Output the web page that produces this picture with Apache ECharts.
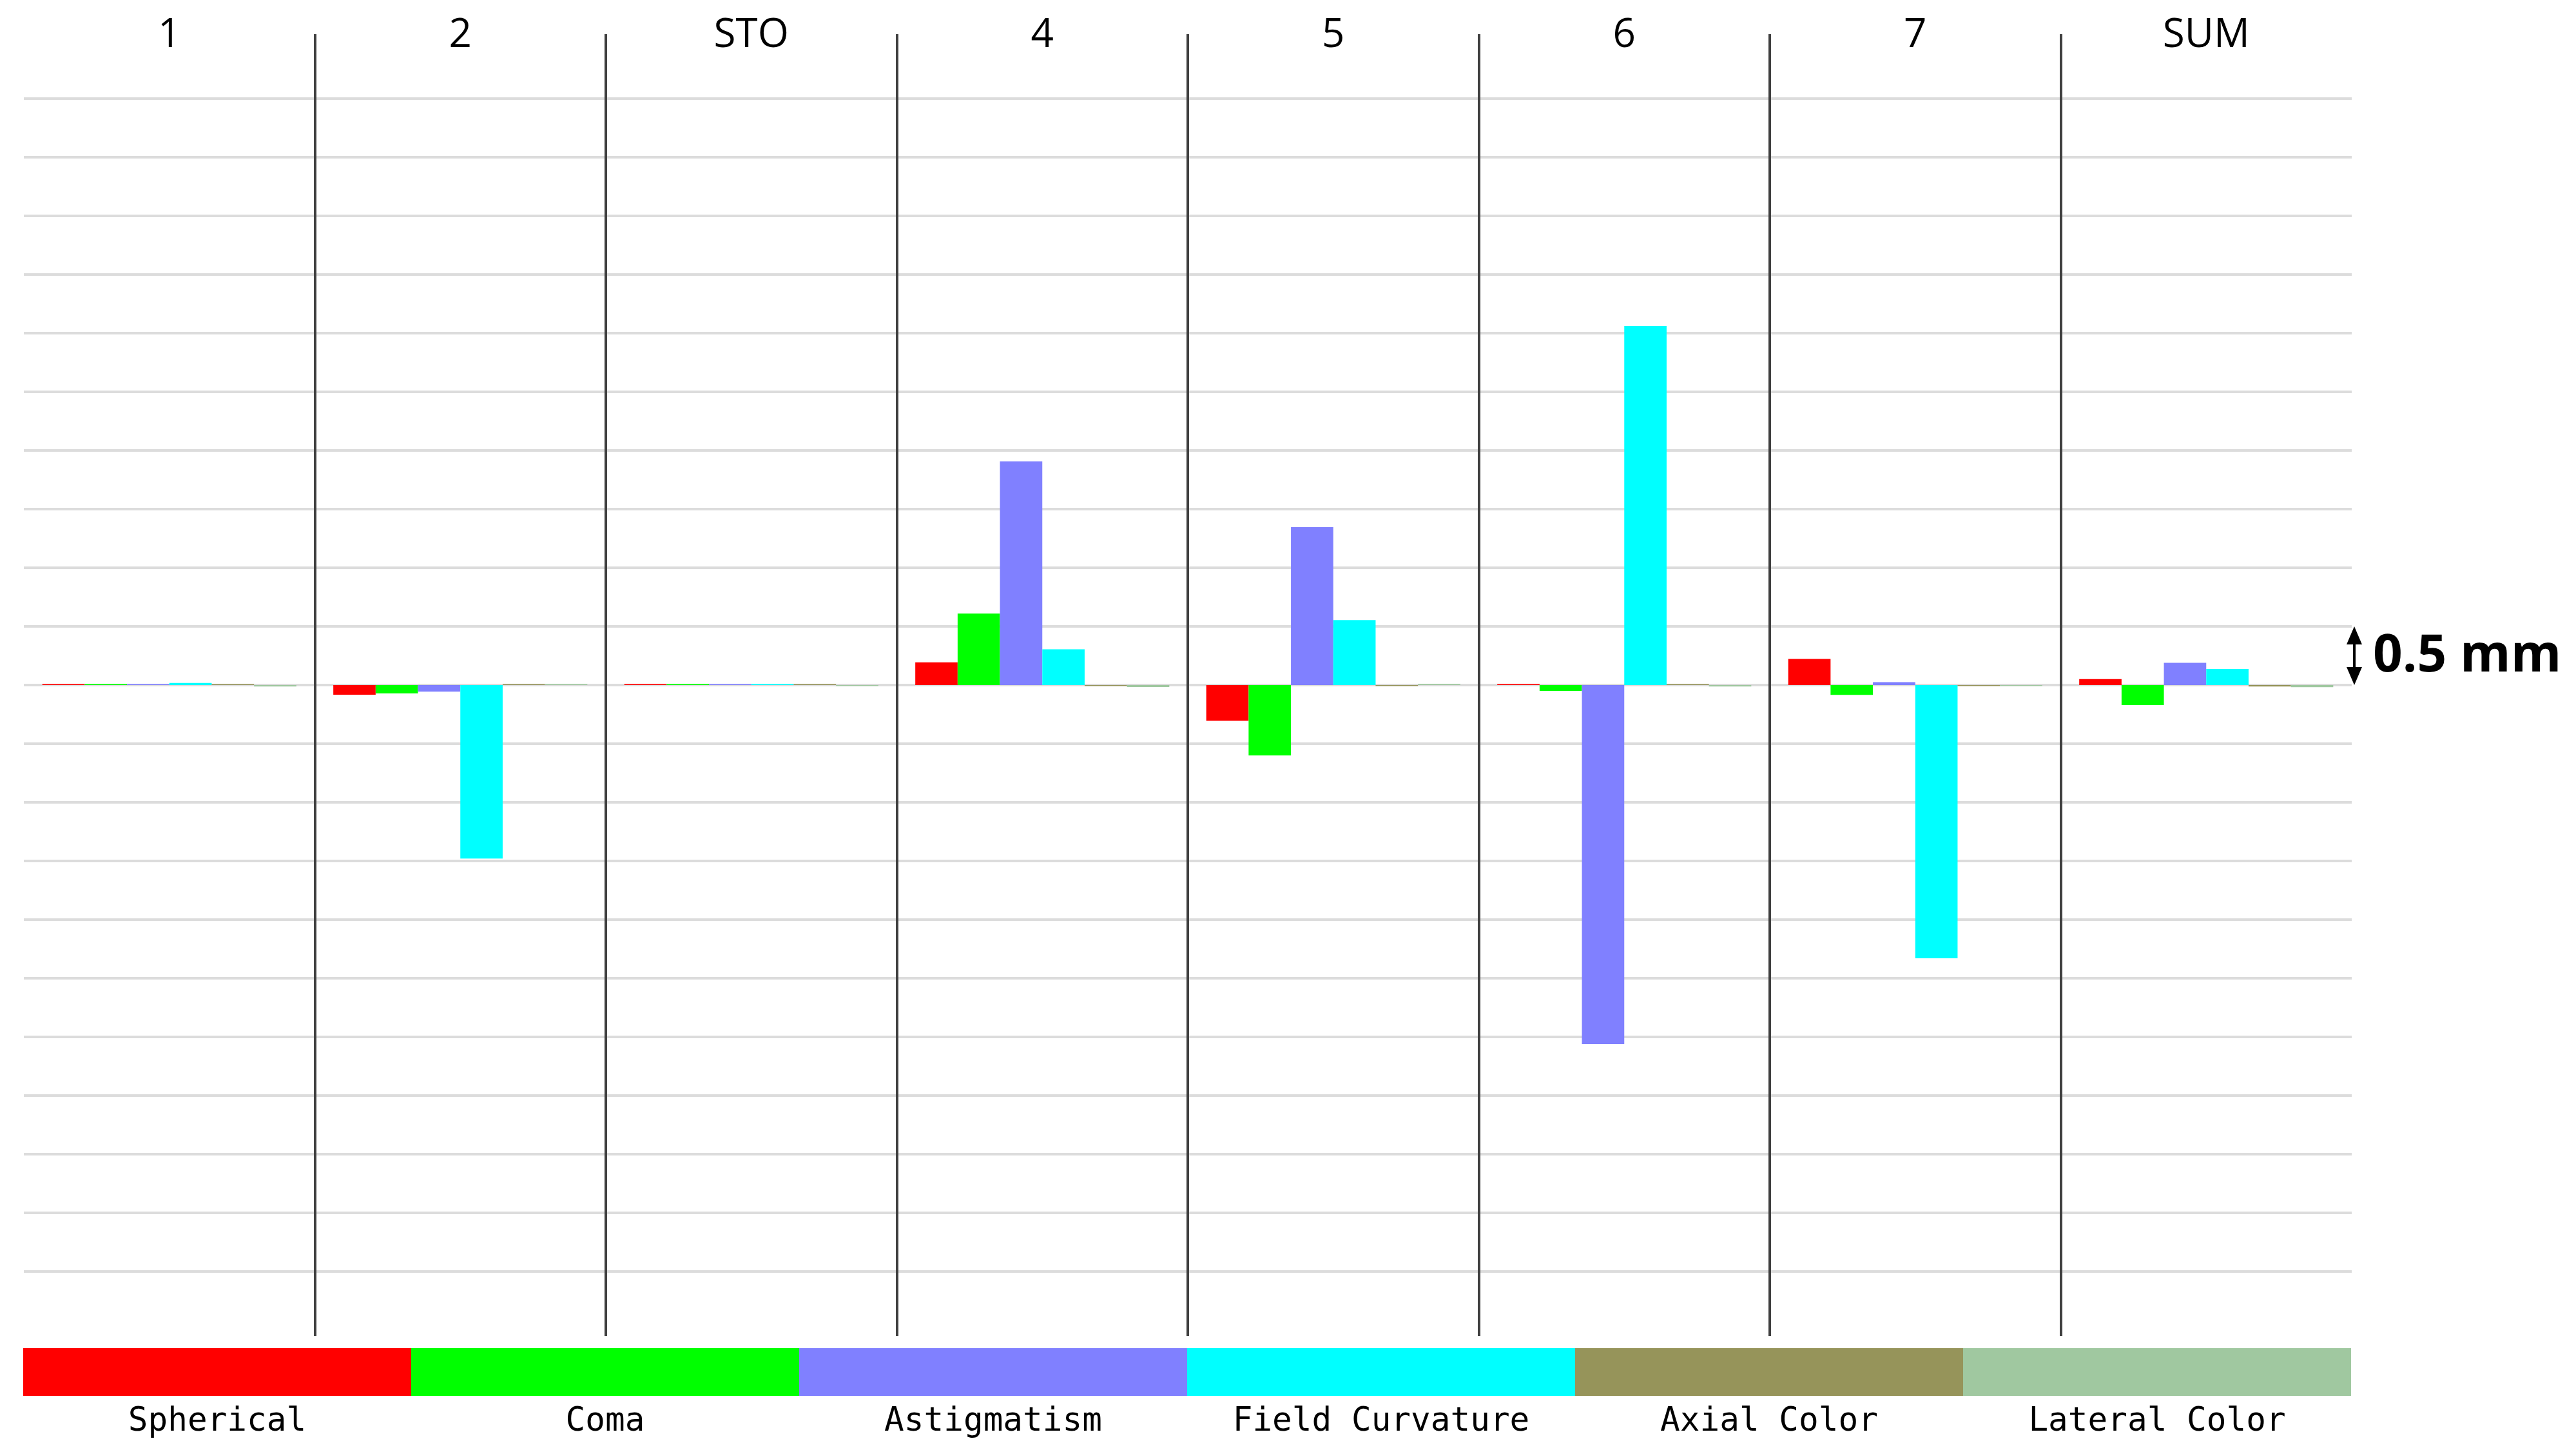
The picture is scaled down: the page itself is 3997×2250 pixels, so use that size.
<!DOCTYPE html>
<html>
<head>
<meta charset="utf-8">
<script src="https://cdn.jsdelivr.net/npm/echarts@6/dist/echarts.min.js"></script>
<style>
html,body{margin:0;padding:0;background:#fff;}
#chart{width:3997px;height:2250px;}
</style>
</head>
<body>
<div id="chart"></div>
<script>
const categories = ['1', '2', 'STO', '4', '5', '6', '7', 'SUM'];
const seriesNames = ['Spherical', 'Coma', 'Astigmatism', 'Field Curvature', 'Axial Color', 'Lateral Color'];
const seriesColors = ['#ff0000', '#00ff00', '#8080ff', '#00ffff', '#96945a', '#a0c8a0'];
const spherical = [0.008, -0.082, 0.008, 0.193, -0.305, 0.008, 0.223, 0.051];
const coma = [0.008, -0.071, 0.008, 0.61, -0.6, -0.05, -0.084, -0.17];
const astigmatism = [0.008, -0.057, 0.008, 1.907, 1.346, -3.06, 0.025, 0.189];
const fieldCurvature = [0.018, -1.48, 0.008, 0.305, 0.553, 3.06, -2.33, 0.137];
const axialColor = [0.008, 0.008, 0.008, -0.008, -0.008, 0.008, -0.008, -0.012];
const lateralColor = [-0.012, 0.008, -0.008, -0.016, 0.01, -0.012, -0.008, -0.018];
const scaleBarValue = 0.5;
const scaleBarLabel = '0.5 mm';

const seriesData = [spherical, coma, astigmatism, fieldCurvature, axialColor, lateralColor];

const chart = echarts.init(document.getElementById('chart'), null, {renderer: 'canvas'});

const rich = {
  l: {width: 602, align: 'center', fontFamily: 'DejaVu Sans Mono', fontSize: 51, lineHeight: 82, color: '#000'}
};
seriesColors.forEach((c, i) => {
  rich['b' + i] = {width: 602, height: 74, lineHeight: 74, backgroundColor: c};
});

const option = {
  animation: false,
  backgroundColor: '#ffffff',
  grid: [
    {left: 37, right: 348, top: 53, bottom: 177},
    {left: 37, right: 348, top: 153, bottom: 277}
  ],
  xAxis: [
    {
      type: 'category', gridIndex: 0, data: categories, z: 5,
      axisLine: {show: false}, axisTick: {show: false}, axisLabel: {show: false},
      splitLine: {show: true, showMinLine: false, showMaxLine: false, lineStyle: {color: '#404040', width: 4}}
    },
    {
      type: 'category', gridIndex: 1, data: categories, position: 'top',
      axisLine: {show: false}, axisTick: {show: false},
      axisLabel: {show: true, margin: 67, fontSize: 62, fontFamily: 'Open Sans', color: '#000'},
      splitLine: {show: false}
    }
  ],
  yAxis: [
    {type: 'value', gridIndex: 0, min: -5.5, max: 5.5, show: false},
    {
      type: 'value', gridIndex: 1, min: -5, max: 5, interval: 0.5,
      axisLine: {show: false}, axisTick: {show: false}, axisLabel: {show: false},
      splitLine: {show: true, lineStyle: {color: '#dcdcdc', width: 4}}
    }
  ],
  legend: {
    left: 31, top: 2092, padding: 0, itemGap: -5, itemWidth: 0, itemHeight: 0,
    selectedMode: false,
    itemStyle: {opacity: 0},
    data: seriesNames,
    formatter: function (name) {
      const i = seriesNames.indexOf(name);
      return '{b' + i + '| }\n{l|' + name + '}';
    },
    textStyle: {rich: rich}
  },
  series: seriesNames.map((name, i) => ({
    name: name,
    type: 'bar',
    xAxisIndex: 1,
    yAxisIndex: 1,
    data: seriesData[i],
    barGap: '0%',
    barCategoryGap: '12.7%',
    itemStyle: {color: seriesColors[i]},
    emphasis: {disabled: true},
    z: 2
  }))
};

chart.setOption(option);

const y0 = chart.convertToPixel({yAxisIndex: 1}, 0);
const y1 = chart.convertToPixel({yAxisIndex: 1}, scaleBarValue);
const ax = 3653;
chart.setOption({
  graphic: [
    {type: 'line', shape: {x1: ax, y1: y1 + 20, x2: ax, y2: y0 - 20}, style: {stroke: '#000', lineWidth: 4}},
    {type: 'polygon', shape: {points: [[ax, y1], [ax - 12, y1 + 28], [ax + 12, y1 + 28]]}, style: {fill: '#000'}},
    {type: 'polygon', shape: {points: [[ax, y0], [ax - 12, y0 - 28], [ax + 12, y0 - 28]]}, style: {fill: '#000'}},
    {type: 'text', x: 3682, y: (y0 + y1) / 2 + 2, style: {text: scaleBarLabel, fontFamily: 'Open Sans', fontWeight: 'bold', fontSize: 80, fill: '#000', verticalAlign: 'middle', align: 'left'}}
  ]
});
</script>
</body>
</html>
